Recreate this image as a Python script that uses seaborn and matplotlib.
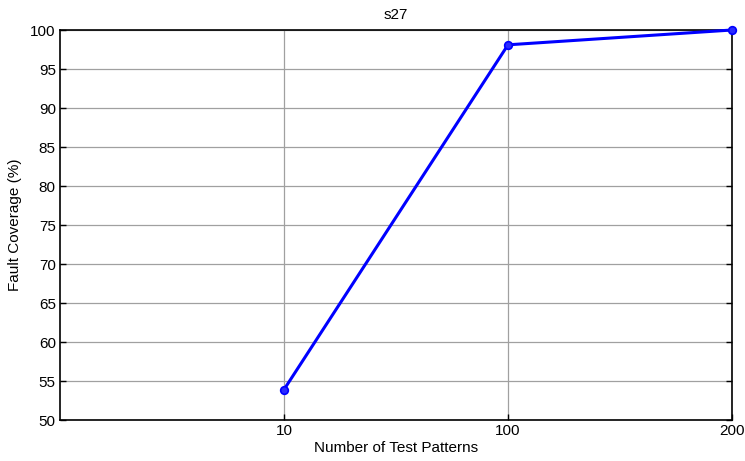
import matplotlib
matplotlib.use("Agg")
import matplotlib.pyplot as plt
import seaborn as sns
import pandas as pd

patterns = ["10", "100", "200"]
coverage = [53.9, 98.1, 100.0]
positions = [1, 2, 3]
yticks = [50, 55, 60, 65, 70, 75, 80, 85, 90, 95, 100]

sns.set_style("white")
plt.rcParams['font.family'] = ['Liberation Sans', 'DejaVu Sans']
plt.rcParams['font.size'] = 11
plt.rcParams['text.color'] = 'black'
plt.rcParams['axes.labelcolor'] = 'black'
plt.rcParams['xtick.color'] = 'black'
plt.rcParams['ytick.color'] = 'black'

df = pd.DataFrame({"pos": positions, "cov": coverage})

fig = plt.figure(figsize=(7.45, 4.61), dpi=100)
ax = fig.add_axes([60/745, 1-420/461, (732-60)/745, (420-30)/461])
ax.grid(True, color="#a0a0a0", linewidth=0.9)
sns.lineplot(data=df, x="pos", y="cov", ax=ax, color="#0000ff", linewidth=2.2,
             marker="o", markersize=5.5, markeredgecolor="#0000ff",
             markerfacecolor="#2a2aff", markeredgewidth=1.2, clip_on=False, zorder=5)
ax.set_xlim(0, 3)
ax.set_ylim(50, 100)
ax.set_xticks(positions)
ax.set_xticklabels(patterns)
ax.set_yticks(yticks)
ax.tick_params(direction="in", length=4, width=1, colors="black", labelsize=11, pad=3,
               top=False, right=True, left=True, bottom=True)
for s in ax.spines.values():
    s.set_color("black")
    s.set_linewidth(1.2)
ax.set_xlabel("Number of Test Patterns", fontsize=11, labelpad=2, color="black")
ax.set_ylabel("Fault Coverage (%)", fontsize=11, labelpad=6, color="black")
ax.set_title("s27", fontsize=11, pad=8, color="black")
fig.savefig("out.png", dpi=100)
